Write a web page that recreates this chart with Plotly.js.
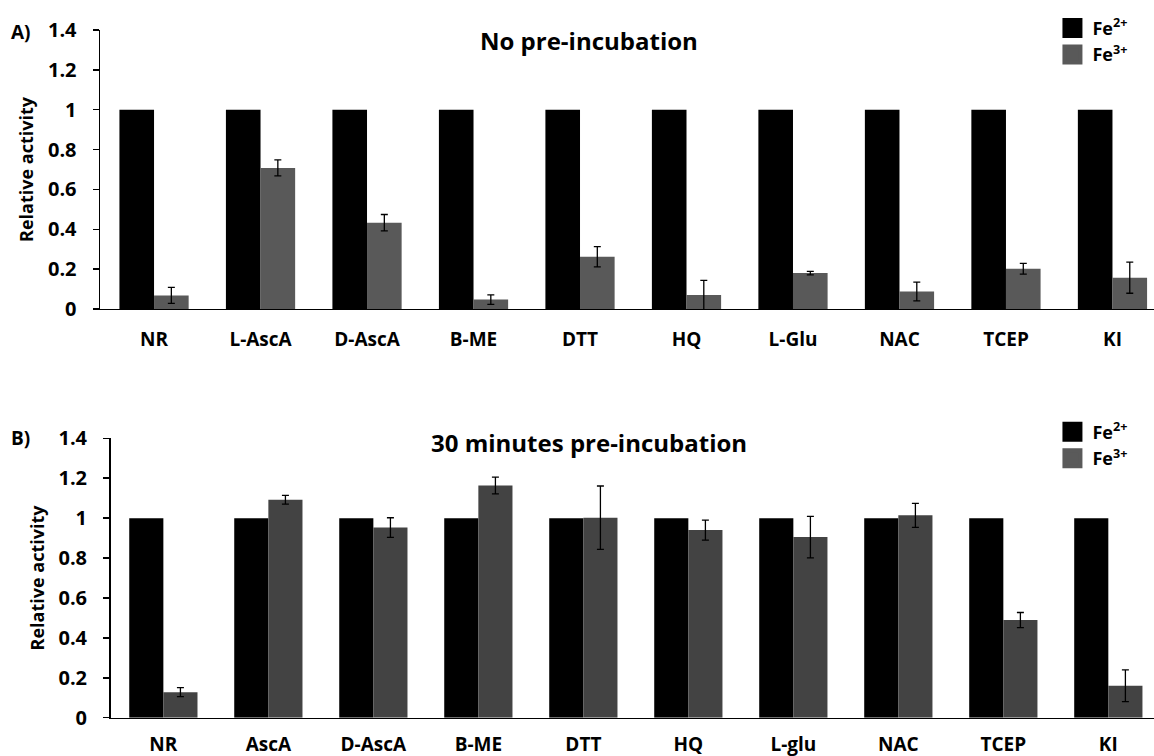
<!DOCTYPE html>
<html>
<head>
<meta charset="utf-8">
<script src="https://cdn.plot.ly/plotly-3.0.1.min.js"></script>
<style>html,body{margin:0;padding:0;background:#fff;}#chart{width:1154px;height:756px;}</style>
</head>
<body>
<div id="chart"></div>
<script>
// Panel A: no pre-incubation
const catsA = ["NR", "L-AscA", "D-AscA", "B-ME", "DTT", "HQ", "L-Glu", "NAC", "TCEP", "KI"];
const fe2A = [1, 1, 1, 1, 1, 1, 1, 1, 1, 1];
const fe3A = [0.068, 0.708, 0.433, 0.047, 0.262, 0.070, 0.180, 0.088, 0.202, 0.157];
const fe3AErr = [0.040, 0.040, 0.041, 0.024, 0.051, 0.074, 0.009, 0.047, 0.027, 0.078];

// Panel B: 30 minutes pre-incubation
const catsB = ["NR", "AscA", "D-AscA", "B-ME", "DTT", "HQ", "L-glu", "NAC", "TCEP", "KI"];
const fe2B = [1, 1, 1, 1, 1, 1, 1, 1, 1, 1];
const fe3B = [0.128, 1.092, 0.953, 1.164, 1.002, 0.940, 0.905, 1.014, 0.489, 0.160];
const fe3BErr = [0.023, 0.022, 0.049, 0.042, 0.159, 0.050, 0.104, 0.060, 0.038, 0.080];

const seriesNames = ["Fe<sup>2+</sup>", "Fe<sup>3+</sup>"];

const FONT = "'Open Sans', 'Noto Sans', sans-serif";
const errStyle = {type: "data", visible: true, color: "#000", thickness: 1.3, width: 3.5};

function legendMarker(name, color, xa, ya, leg) {
  return {type: "scatter", mode: "markers", x: [null], y: [null], name: name,
    marker: {symbol: "square", size: 16, color: color, line: {color: color, width: 4}},
    xaxis: xa, yaxis: ya, legend: leg, hoverinfo: "skip"};
}

const traces = [
  {type: "bar", x: catsA, y: fe2A, name: seriesNames[0], marker: {color: "#000000"},
   xaxis: "x", yaxis: "y", showlegend: false},
  {type: "bar", x: catsA, y: fe3A, name: seriesNames[1], marker: {color: "#595959"},
   error_y: Object.assign({array: fe3AErr}, errStyle), xaxis: "x", yaxis: "y", showlegend: false},
  {type: "bar", x: catsB, y: fe2B, name: seriesNames[0], marker: {color: "#000000"},
   xaxis: "x2", yaxis: "y2", showlegend: false},
  {type: "bar", x: catsB, y: fe3B, name: seriesNames[1], marker: {color: "#434343"},
   error_y: Object.assign({array: fe3BErr}, errStyle), xaxis: "x2", yaxis: "y2", showlegend: false},
  legendMarker(seriesNames[0], "#000000", "x", "y", "legend"),
  legendMarker(seriesNames[1], "#595959", "x", "y", "legend"),
  legendMarker(seriesNames[0], "#000000", "x2", "y2", "legend2"),
  legendMarker(seriesNames[1], "#5a5a5a", "x2", "y2", "legend2")
];

const yTickFont = {family: FONT, size: 20, color: "#000", weight: "bold"};
const xTickFont = {family: FONT, size: 19, color: "#000", weight: "bold"};
const yCommon = {
  range: [0, 1.4], tickvals: [0, 0.2, 0.4, 0.6, 0.8, 1, 1.2, 1.4],
  ticktext: ["0", "0.2", "0.4", "0.6", "0.8", "1", "1.2", "1.4"],
  showgrid: false, zeroline: false, showline: true, linecolor: "#000", linewidth: 1.5,
  ticks: "outside", ticklen: 6, tickwidth: 1.5, tickcolor: "#000",
  ticklabelstandoff: 12, tickfont: yTickFont, fixedrange: true
};
const xCommon = {
  type: "category", showgrid: false, zeroline: false, showline: true, linecolor: "#000", linewidth: 1.5,
  ticks: "", tickfont: xTickFont, fixedrange: true
};
const yTitle = {text: "Relative activity", font: {family: FONT, size: 18, color: "#000", weight: "bold"}, standoff: 9};

const layout = {
  width: 1154, height: 756,
  margin: {l: 0, r: 0, t: 0, b: 0},
  paper_bgcolor: "#fff", plot_bgcolor: "#fff",
  barmode: "group", bargap: 0.35, bargroupgap: 0,
  font: {family: FONT, color: "#000"},
  xaxis: Object.assign({}, xCommon, {domain: [0.0867, 1], range: [-0.507, 9.39], anchor: "y", ticklabelstandoff: 13}),
  yaxis: Object.assign({}, yCommon, {domain: [0.5913, 0.9603], anchor: "x", title: yTitle}),
  xaxis2: Object.assign({}, xCommon, {domain: [0.0958, 1], range: [-0.503, 9.435], anchor: "y2", ticklabelstandoff: 9}),
  yaxis2: Object.assign({}, yCommon, {domain: [0.0507, 0.4202], anchor: "x2", title: yTitle}),
  legend: {x: 0.912, y: 0.987, xanchor: "left", yanchor: "top", bgcolor: "rgba(0,0,0,0)",
    font: {family: FONT, size: 18, color: "#000", weight: "bold"}, traceorder: "normal", itemwidth: 30},
  legend2: {x: 0.912, y: 0.453, xanchor: "left", yanchor: "top", bgcolor: "rgba(0,0,0,0)",
    font: {family: FONT, size: 18, color: "#000", weight: "bold"}, traceorder: "normal", itemwidth: 30},
  annotations: [
    {text: "No pre-incubation", xref: "paper", yref: "paper", x: 589 / 1154, y: 1 - 40 / 756,
     xanchor: "center", yanchor: "middle", showarrow: false,
     font: {family: FONT, size: 24, color: "#000", weight: "bold"}},
    {text: "30 minutes pre-incubation", xref: "paper", yref: "paper", x: 589 / 1154, y: 1 - 443 / 756,
     xanchor: "center", yanchor: "middle", showarrow: false,
     font: {family: FONT, size: 24, color: "#000", weight: "bold"}},
    {text: "A)", xref: "paper", yref: "paper", x: 9 / 1154, y: 1 - 32 / 756,
     xanchor: "left", yanchor: "middle", showarrow: false,
     font: {family: FONT, size: 19, color: "#000", weight: "bold"}},
    {text: "B)", xref: "paper", yref: "paper", x: 9 / 1154, y: 1 - 438 / 756,
     xanchor: "left", yanchor: "middle", showarrow: false,
     font: {family: FONT, size: 19, color: "#000", weight: "bold"}}
  ],
  showlegend: true
};

Plotly.newPlot("chart", traces, layout, {displayModeBar: false, staticPlot: true});
</script>
</body>
</html>
